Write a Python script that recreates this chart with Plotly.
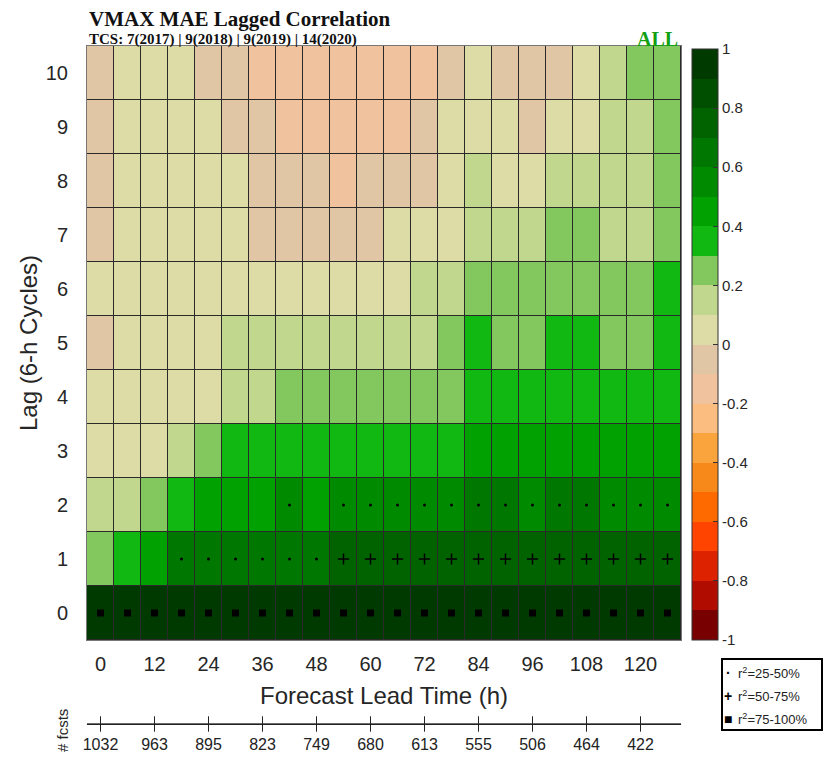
import numpy as np
import plotly.graph_objects as go

# Forecast lead times (h) and lags (6-h cycles)
lead_times = list(range(0, 127, 6))
lags = list(range(0, 11))

# Lagged correlation of VMAX MAE, one row per lag (lag 0 first)
lag0 = [0.95, 0.94, 0.94, 0.93, 0.93, 0.93, 0.92, 0.92, 0.92, 0.92, 0.93, 0.92, 0.92, 0.93, 0.93, 0.92, 0.93, 0.93, 0.93, 0.92, 0.93, 0.93]
lag1 = [0.27, 0.36, 0.47, 0.64, 0.66, 0.66, 0.67, 0.68, 0.69, 0.72, 0.73, 0.74, 0.75, 0.74, 0.76, 0.77, 0.75, 0.76, 0.77, 0.76, 0.77, 0.76]
lag2 = [0.16, 0.18, 0.27, 0.38, 0.45, 0.47, 0.48, 0.52, 0.49, 0.55, 0.56, 0.57, 0.58, 0.59, 0.62, 0.63, 0.58, 0.62, 0.63, 0.59, 0.58, 0.57]
lag3 = [0.06, 0.07, 0.09, 0.14, 0.24, 0.33, 0.35, 0.36, 0.37, 0.37, 0.38, 0.38, 0.39, 0.39, 0.42, 0.43, 0.44, 0.45, 0.45, 0.44, 0.43, 0.42]
lag4 = [0.02, 0.03, 0.05, 0.07, 0.09, 0.12, 0.16, 0.21, 0.23, 0.24, 0.25, 0.26, 0.27, 0.28, 0.31, 0.32, 0.33, 0.34, 0.35, 0.36, 0.37, 0.38]
lag5 = [-0.03, 0.02, 0.04, 0.06, 0.08, 0.11, 0.13, 0.14, 0.15, 0.16, 0.17, 0.18, 0.19, 0.24, 0.31, 0.27, 0.28, 0.32, 0.33, 0.28, 0.29, 0.34]
lag6 = [0.01, 0.02, 0.03, 0.04, 0.05, 0.06, 0.07, 0.07, 0.08, 0.08, 0.09, 0.09, 0.12, 0.15, 0.21, 0.22, 0.23, 0.24, 0.25, 0.26, 0.27, 0.32]
lag7 = [-0.04, 0.03, 0.04, 0.05, 0.05, 0.04, -0.02, -0.03, -0.05, -0.04, -0.02, 0.03, 0.05, 0.08, 0.12, 0.14, 0.16, 0.21, 0.22, 0.18, 0.19, 0.23]
lag8 = [-0.05, 0.02, 0.03, 0.04, 0.03, 0.02, -0.03, -0.06, -0.08, -0.11, -0.07, -0.05, -0.02, 0.04, 0.11, 0.07, 0.09, 0.13, 0.15, 0.16, 0.17, 0.24]
lag9 = [-0.06, 0.01, 0.03, 0.04, 0.02, -0.02, -0.08, -0.12, -0.14, -0.15, -0.13, -0.12, -0.09, 0.02, 0.04, 0.03, -0.03, 0.02, 0.06, 0.12, 0.14, 0.21]
lag10 = [-0.05, 0.02, 0.03, 0.01, -0.04, -0.07, -0.11, -0.13, -0.15, -0.16, -0.14, -0.13, -0.12, -0.06, 0.02, -0.02, -0.04, -0.03, 0.05, 0.13, 0.22, 0.25]
corr = [lag0, lag1, lag2, lag3, lag4, lag5, lag6, lag7, lag8, lag9, lag10]

# Number of forecasts at each 12-h lead time
fcst_hours = [0, 12, 24, 36, 48, 60, 72, 84, 96, 108, 120]
fcst_counts = ["1032", "963", "895", "823", "749", "680", "613", "555", "506", "464", "422"]

# Colorbar ticks
cbar_vals = [1, 0.8, 0.6, 0.4, 0.2, 0, -0.2, -0.4, -0.6, -0.8, -1]
cbar_text = ["1", "0.8", "0.6", "0.4", "0.2", "0", "-0.2", "-0.4", "-0.6", "-0.8", "-1"]

# 20 discrete colour bins from -1 to 1
bin_colors = [
    "#780000", "#b00c00", "#dd2200", "#ff4400", "#ff6a00",
    "#f7891a", "#f9a43c", "#fbbd80", "#f0c39e", "#e0c6a5",
    "#dedca6", "#c2d78e", "#82c85e", "#12b812", "#00a100",
    "#008a00", "#007700", "#006300", "#004f00", "#003a00",
]
colorscale = []
n = len(bin_colors)
for i, c in enumerate(bin_colors):
    colorscale.append([i / n, c])
    colorscale.append([(i + 1) / n, c])

W, H = 823, 757
ML, MR, MT, MB = 87, 142, 46, 33
PW, PH = W - ML - MR, H - MT - MB


def py(pix):
    """pixel row -> paper y"""
    return 1 - (pix - MT) / PH


def px(pix):
    """pixel column -> paper x"""
    return (pix - ML) / PW


fig = go.Figure()

fig.add_trace(go.Heatmap(
    x=lead_times, y=lags, z=corr,
    zmin=-1, zmax=1, colorscale=colorscale,
    xgap=1, ygap=1,
    colorbar=dict(
        x=px(692), xanchor="left", xpad=0,
        y=py(344.5), yanchor="middle", ypad=0,
        len=(640 - 49) / PH, lenmode="fraction",
        thickness=26,
        outlinecolor="#333", outlinewidth=1,
        tickvals=cbar_vals, ticktext=cbar_text,
        ticks="inside", ticklen=5, tickcolor="#333",
        tickfont=dict(family="Liberation Sans", size=15, color="#262626"),
    ),
    hoverinfo="skip",
))

# Significance markers from r^2 ranges
arr = np.array(corr)
r2 = arr ** 2
xs_grid, ys_grid = np.meshgrid(lead_times, lags)
marker_classes = [
    ((r2 >= 0.25) & (r2 < 0.5), dict(symbol="circle", size=3, color="black")),
    ((r2 >= 0.5) & (r2 < 0.75), dict(symbol="cross-thin-open", size=8, color="black",
                                     line=dict(width=1.5, color="black"))),
    ((r2 >= 0.75), dict(symbol="square", size=7, color="black")),
]
for mask, mk in marker_classes:
    fig.add_trace(go.Scatter(
        x=xs_grid[mask], y=ys_grid[mask], mode="markers",
        marker=mk, showlegend=False, hoverinfo="skip",
    ))

# Forecast-count axis below the chart
fig.add_trace(go.Scatter(
    x=fcst_hours, y=[0] * len(fcst_hours), xaxis="x2", yaxis="y2",
    mode="markers", marker=dict(symbol="line-ns", size=11,
                                line=dict(width=1, color="#222")),
    cliponaxis=False, showlegend=False, hoverinfo="skip",
))

tick_font = dict(family="Liberation Sans", size=20, color="#262626")
fig.update_layout(
    width=W, height=H,
    margin=dict(l=ML, r=MR, t=MT, b=MB, autoexpand=False),
    paper_bgcolor="white", plot_bgcolor="#2a2a2a",
    xaxis=dict(
        domain=[0, 1], range=[-3, 129], tickvals=fcst_hours,
        ticks="", showgrid=False, zeroline=False, automargin=False,
        showline=True, mirror=True, linecolor="#777", linewidth=1,
        tickfont=tick_font, ticklabelstandoff=6,
    ),
    yaxis=dict(
        domain=[(724 - 640) / PH, 1], range=[-0.5, 10.5], tickvals=lags,
        ticks="", showgrid=False, zeroline=False, automargin=False,
        showline=True, mirror=True, linecolor="#777", linewidth=1,
        tickfont=tick_font, ticklabelstandoff=14,
    ),
    xaxis2=dict(
        domain=[0, 1], range=[-3, 129], anchor="y2", automargin=False,
        tickvals=fcst_hours, ticktext=fcst_counts, ticks="",
        showline=True, linecolor="#222", linewidth=1,
        showgrid=False, zeroline=False,
        tickfont=dict(family="Liberation Sans", size=16, color="#222"),
        ticklabelstandoff=6,
    ),
    yaxis2=dict(
        domain=[0, 0.001], range=[0, 1], visible=False, automargin=False,
    ),
    showlegend=False,
)

serif = "Liberation Serif"
annotations = [
    dict(text="<b>VMAX MAE Lagged Correlation</b>", x=0, y=py(19), xanchor="left",
         yanchor="middle", font=dict(family=serif, size=21, color="#111")),
    dict(text="<b>TCS: 7(2017) | 9(2018) | 9(2019) | 14(2020)</b>", x=0, y=py(40),
         xanchor="left", yanchor="middle", font=dict(family=serif, size=15, color="#111")),
    dict(text="<b>ALL</b>", x=px(680), y=py(39), xanchor="right", yanchor="middle",
         font=dict(family=serif, size=20, color="#12a012")),
    dict(text="Lag (6-h Cycles)", x=px(28), y=py(343), textangle=-90,
         xanchor="center", yanchor="middle",
         font=dict(family="Liberation Sans", size=24, color="#262626")),
    dict(text="Forecast Lead Time (h)", x=0.5, y=py(695), xanchor="center",
         yanchor="middle", font=dict(family="Liberation Sans", size=24, color="#262626")),
    dict(text="# fcsts", x=px(62), y=py(731), textangle=-90, xanchor="center",
         yanchor="middle", font=dict(family="Liberation Sans", size=15, color="#262626")),
]

# Legend for significance markers
legend_rows = [
    ("<b>·</b>", "r<sup>2</sup>=25-50%", 673),
    ("<b>+</b>", "r<sup>2</sup>=50-75%", 696),
    ("■", "r<sup>2</sup>=75-100%", 719),
]
for sym, label, yy in legend_rows:
    annotations.append(dict(text=sym, x=px(728), y=py(yy), xanchor="center",
                            yanchor="middle", font=dict(family="Liberation Sans", size=14, color="black")))
    annotations.append(dict(text=label, x=px(736), y=py(yy), xanchor="left",
                            yanchor="middle", font=dict(family="Liberation Sans", size=13, color="#222")))
for a in annotations:
    a.update(xref="paper", yref="paper", showarrow=False)
fig.update_layout(annotations=annotations)

fig.add_shape(type="rect", xref="paper", yref="paper",
              x0=px(722), x1=px(822), y0=py(730), y1=py(659),
              line=dict(color="black", width=2), fillcolor="rgba(0,0,0,0)")

fig.write_html("out.html")
